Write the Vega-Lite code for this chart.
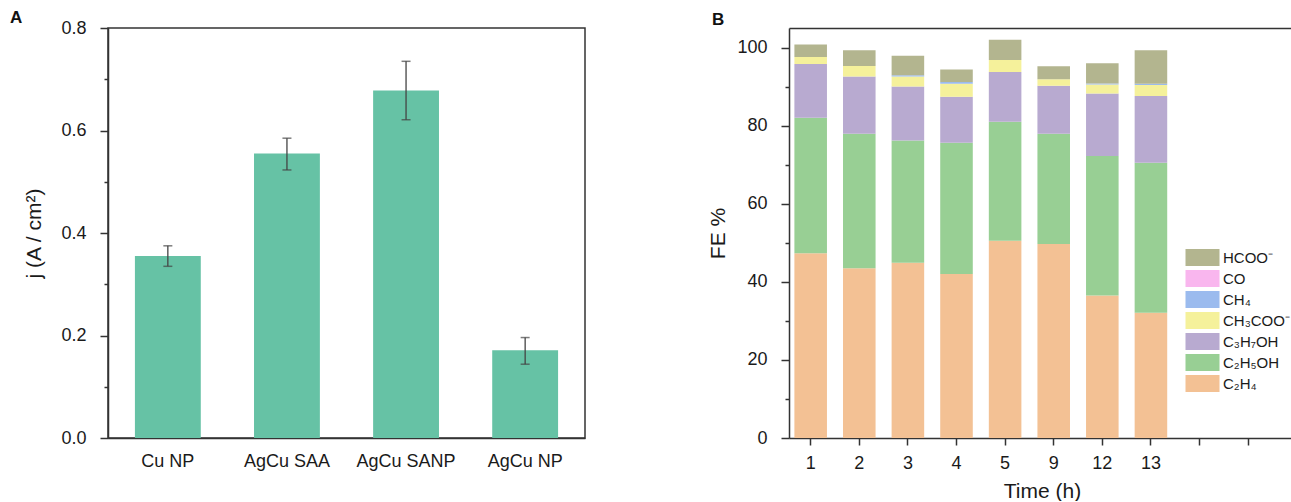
{
  "$schema": "https://vega.github.io/schema/vega-lite/v6.json",
  "padding": {"left": 9, "top": 8, "right": 0, "bottom": 0},
  "background": "white",
  "config": {
    "font": "Liberation Sans",
    "view": {"stroke": null},
    "axis": {
      "domainColor": "#333333", "tickColor": "#333333", "labelColor": "#1a1a1a", "titleColor": "#1a1a1a",
      "labelFontSize": 18, "titleFontSize": 21, "titleFontWeight": "normal", "grid": false,
      "domainWidth": 1.5, "tickWidth": 1.5
    },
    "title": {"color": "#111111"}
  },
  "datasets": {
    "current": [
      {"catalyst": "Cu NP", "j": 0.355, "lo": 0.335, "hi": 0.375},
      {"catalyst": "AgCu SAA", "j": 0.555, "lo": 0.523, "hi": 0.585},
      {"catalyst": "AgCu SANP", "j": 0.678, "lo": 0.621, "hi": 0.735},
      {"catalyst": "AgCu NP", "j": 0.171, "lo": 0.144, "hi": 0.196}
    ],
    "fe": [
      {"time": "1", "product": "C₂H₄", "rank": 1, "fe": 47.3},
      {"time": "1", "product": "C₂H₅OH", "rank": 2, "fe": 34.7},
      {"time": "1", "product": "C₃H₇OH", "rank": 3, "fe": 13.8},
      {"time": "1", "product": "CH₃COO⁻", "rank": 4, "fe": 1.8},
      {"time": "1", "product": "HCOO⁻", "rank": 7, "fe": 3.2},
      {"time": "2", "product": "C₂H₄", "rank": 1, "fe": 43.5},
      {"time": "2", "product": "C₂H₅OH", "rank": 2, "fe": 34.4},
      {"time": "2", "product": "C₃H₇OH", "rank": 3, "fe": 14.7},
      {"time": "2", "product": "CH₃COO⁻", "rank": 4, "fe": 2.7},
      {"time": "2", "product": "HCOO⁻", "rank": 7, "fe": 4.0},
      {"time": "3", "product": "C₂H₄", "rank": 1, "fe": 44.9},
      {"time": "3", "product": "C₂H₅OH", "rank": 2, "fe": 31.3},
      {"time": "3", "product": "C₃H₇OH", "rank": 3, "fe": 13.8},
      {"time": "3", "product": "CH₃COO⁻", "rank": 4, "fe": 2.6},
      {"time": "3", "product": "CH₄", "rank": 5, "fe": 0.3},
      {"time": "3", "product": "HCOO⁻", "rank": 7, "fe": 5.0},
      {"time": "4", "product": "C₂H₄", "rank": 1, "fe": 42.0},
      {"time": "4", "product": "C₂H₅OH", "rank": 2, "fe": 33.6},
      {"time": "4", "product": "C₃H₇OH", "rank": 3, "fe": 11.8},
      {"time": "4", "product": "CH₃COO⁻", "rank": 4, "fe": 3.3},
      {"time": "4", "product": "CH₄", "rank": 5, "fe": 0.5},
      {"time": "4", "product": "HCOO⁻", "rank": 7, "fe": 3.2},
      {"time": "5", "product": "C₂H₄", "rank": 1, "fe": 50.5},
      {"time": "5", "product": "C₂H₅OH", "rank": 2, "fe": 30.5},
      {"time": "5", "product": "C₃H₇OH", "rank": 3, "fe": 12.7},
      {"time": "5", "product": "CH₃COO⁻", "rank": 4, "fe": 3.1},
      {"time": "5", "product": "HCOO⁻", "rank": 7, "fe": 5.2},
      {"time": "9", "product": "C₂H₄", "rank": 1, "fe": 49.7},
      {"time": "9", "product": "C₂H₅OH", "rank": 2, "fe": 28.2},
      {"time": "9", "product": "C₃H₇OH", "rank": 3, "fe": 12.3},
      {"time": "9", "product": "CH₃COO⁻", "rank": 4, "fe": 1.7},
      {"time": "9", "product": "HCOO⁻", "rank": 7, "fe": 3.3},
      {"time": "12", "product": "C₂H₄", "rank": 1, "fe": 36.5},
      {"time": "12", "product": "C₂H₅OH", "rank": 2, "fe": 35.7},
      {"time": "12", "product": "C₃H₇OH", "rank": 3, "fe": 16.0},
      {"time": "12", "product": "CH₃COO⁻", "rank": 4, "fe": 2.3},
      {"time": "12", "product": "CH₄", "rank": 5, "fe": 0.3},
      {"time": "12", "product": "HCOO⁻", "rank": 7, "fe": 5.2},
      {"time": "13", "product": "C₂H₄", "rank": 1, "fe": 32.1},
      {"time": "13", "product": "C₂H₅OH", "rank": 2, "fe": 38.4},
      {"time": "13", "product": "C₃H₇OH", "rank": 3, "fe": 17.1},
      {"time": "13", "product": "CH₃COO⁻", "rank": 4, "fe": 2.8},
      {"time": "13", "product": "CH₄", "rank": 5, "fe": 0.3},
      {"time": "13", "product": "HCOO⁻", "rank": 7, "fe": 8.6}
    ]
  },
  "spacing": 121,
  "hconcat": [
    {
      "width": 477,
      "height": 410,
      "title": {"text": "A", "anchor": "start", "frame": "bounds", "fontSize": 17, "fontWeight": "bold", "dx": -14, "offset": -8},
      "view": {"stroke": "#333333", "strokeWidth": 1.5},
      "data": {"name": "current"},
      "encoding": {
        "x": {
          "field": "catalyst", "type": "nominal", "sort": null,
          "scale": {"paddingInner": 0.447, "paddingOuter": 0.226},
          "axis": {"title": null, "labelAngle": 0, "ticks": false, "labelPadding": 14}
        }
      },
      "layer": [
        {
          "mark": {"type": "bar", "color": "#66c2a5"},
          "encoding": {
            "y": {
              "field": "j", "type": "quantitative",
              "scale": {"domain": [0, 0.8], "nice": false},
              "axis": {
                "title": "j (A / cm²)",
                "values": [0, 0.1, 0.2, 0.3, 0.4, 0.5, 0.6, 0.7, 0.8],
                "labelExpr": "round(datum.value * 10) % 2 == 0 ? format(datum.value, '.1f') : ''",
                "tickSize": {"condition": {"test": "round(datum.value * 10) % 2 == 0", "value": 8}, "value": 4},
                "labelPadding": 14,
                "titlePadding": 16
              }
            }
          }
        },
        {
          "mark": {"type": "rule", "color": "#444444", "strokeWidth": 1.3},
          "encoding": {
            "y": {"field": "lo", "type": "quantitative", "scale": {"domain": [0, 0.8], "nice": false}, "title": "j (A / cm²)"},
            "y2": {"field": "hi"}
          }
        },
        {
          "mark": {"type": "tick", "color": "#444444", "size": 9, "thickness": 1.5},
          "encoding": {
            "y": {"field": "lo", "type": "quantitative", "scale": {"domain": [0, 0.8], "nice": false}, "title": "j (A / cm²)"}
          }
        },
        {
          "mark": {"type": "tick", "color": "#444444", "size": 9, "thickness": 1.5},
          "encoding": {
            "y": {"field": "hi", "type": "quantitative", "scale": {"domain": [0, 0.8], "nice": false}, "title": "j (A / cm²)"}
          }
        }
      ]
    },
    {
      "width": 506,
      "height": 410,
      "title": {"text": "B", "anchor": "start", "frame": "bounds", "fontSize": 17, "fontWeight": "bold", "dx": 4, "offset": -1},
      "data": {"name": "fe"},
      "resolve": {"axis": {"x": "independent"}},
      "layer": [
        {
          "mark": {"type": "bar"},
          "encoding": {
            "x": {
              "field": "time", "type": "nominal",
              "scale": {"domain": ["1", "2", "3", "4", "5", "9", "12", "13", " ", "  "], "paddingInner": 0.33, "paddingOuter": 0.37, "align": 0.15},
              "axis": {"title": "Time (h)", "labelAngle": 0, "tickSize": 7, "labelPadding": 9, "titlePadding": 8}
            },
            "y": {
              "field": "fe", "type": "quantitative", "stack": "zero",
              "scale": {"domain": [0, 105], "nice": false},
              "axis": {
                "title": "FE %",
                "values": [0, 10, 20, 30, 40, 50, 60, 70, 80, 90, 100],
                "labelExpr": "datum.value % 20 == 0 ? datum.label : ''",
                "tickSize": {"condition": {"test": "datum.value % 20 == 0", "value": 8}, "value": 4},
                "labelPadding": 14,
                "titlePadding": 8
              }
            },
            "color": {
              "field": "product", "type": "nominal",
              "scale": {
                "domain": ["HCOO⁻", "CO", "CH₄", "CH₃COO⁻", "C₃H₇OH", "C₂H₅OH", "C₂H₄"],
                "range": ["#b3b58f", "#f9b6ee", "#9bbbee", "#f5f19b", "#b8aad0", "#98cf94", "#f3c194"]
              },
              "legend": {
                "orient": "none", "legendX": 1086, "legendY": 221, "title": null,
                "symbolType": "M-2,-1H2V1H-2Z", "symbolSize": 289, "symbolStrokeWidth": 0, "symbolOpacity": 1,
                "labelFontSize": 15, "labelOffset": 12, "rowPadding": 4, "labelColor": "#1a1a1a"
              }
            },
            "order": {"field": "rank", "type": "quantitative"}
          }
        },
        {
          "mark": {"type": "tick", "opacity": 0},
          "encoding": {
            "x": {
              "field": "time", "type": "nominal",
              "scale": {"domain": ["1", "2", "3", "4", "5", "9", "12", "13", " ", "  "], "paddingInner": 0.33, "paddingOuter": 0.37, "align": 0.15},
              "axis": {"orient": "top", "labels": false, "ticks": false, "title": null, "domainWidth": 1.5}
            }
          }
        }
      ]
    }
  ]
}
